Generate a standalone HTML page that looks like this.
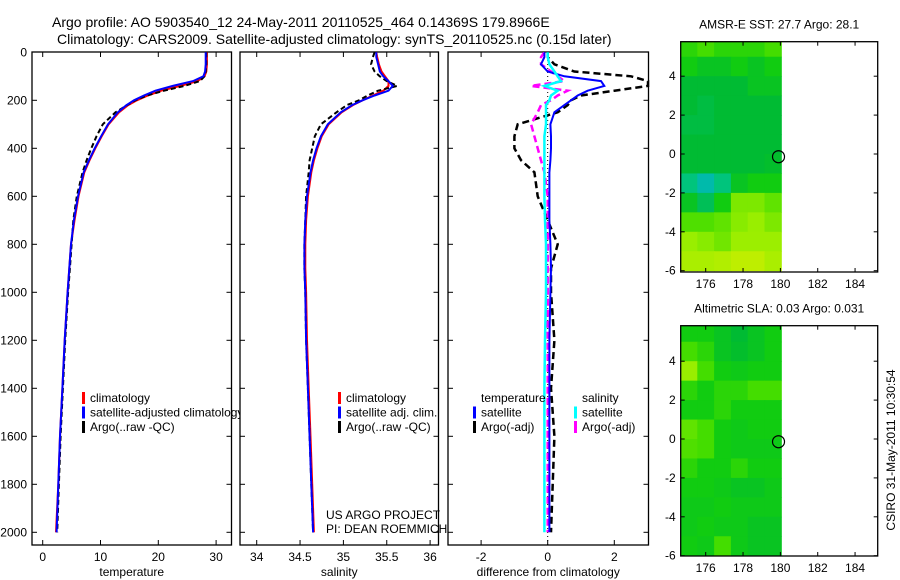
<!DOCTYPE html>
<html><head><meta charset="utf-8"><style>
body{margin:0;background:#fff;}
svg{display:block;font-family:"Liberation Sans",sans-serif;}
</style></head><body>
<svg id="c" width="900" height="580" viewBox="0 0 900 580" xmlns="http://www.w3.org/2000/svg">
<rect width="900" height="580" fill="#fff"/>
<text x="52" y="27" font-size="14">Argo profile: AO 5903540_12 24-May-2011 20110525_464 0.14369S 179.8966E</text>
<text x="57" y="44" font-size="14">Climatology: CARS2009. Satellite-adjusted climatology: synTS_20110525.nc (0.15d later)</text>
</svg>
<script>
const depth=[0,20,50,80,100,120,140,160,180,200,220,250,300,350,400,450,500,600,700,800,900,1000,1200,1400,1600,1800,2000];
const tempSat=[28.2,28.2,28.2,28.1,27.8,26,22.5,19.5,17.5,15.8,14.5,13,11.3,10.1,9,8,7.1,6.1,5.4,4.9,4.6,4.3,3.8,3.4,3.0,2.7,2.4];
const tempClim=[28.4,28.4,28.4,28.3,28.0,26.8,23.8,20.5,18.2,16.3,14.8,13.2,11.4,10.2,9.1,8.1,7.2,6.2,5.5,4.9,4.6,4.3,3.8,3.4,3.0,2.7,2.3];
const tempArgo=[28.3,28.3,28.3,28.2,28.0,27.2,24.5,21.0,18.0,16.0,14.6,12.6,10.4,9.3,8.4,7.6,6.9,5.9,5.3,5.0,4.7,4.4,3.9,3.5,3.1,2.8,2.5];
const salSat=[35.38,35.38,35.40,35.42,35.46,35.52,35.57,35.52,35.36,35.22,35.10,34.97,34.82,34.74,34.69,34.65,34.62,34.58,34.56,34.55,34.55,34.56,34.57,34.59,34.61,34.63,34.65];
const salClim=[35.38,35.39,35.41,35.44,35.48,35.52,35.52,35.46,35.34,35.22,35.11,34.98,34.83,34.75,34.70,34.66,34.63,34.59,34.57,34.56,34.56,34.57,34.58,34.60,34.62,34.64,34.66];
const salArgo=[35.36,35.34,35.32,35.36,35.42,35.50,35.62,35.40,35.28,35.18,35.04,34.92,34.74,34.67,34.64,34.61,34.60,34.57,34.56,34.55,34.55,34.56,34.57,34.59,34.61,34.63,34.65];
const dTsat=[-0.1,-0.1,-0.2,0.0,0.5,1.6,1.7,1.2,0.9,0.7,0.5,0.2,0.08,0.1,0.1,0.08,0.05,0.05,0.05,0.08,0.1,0.08,0.05,0.05,0.05,0.05,0.05];
const dTargo=[0,0,0.2,0.8,2.5,3.4,3.5,2.0,1.0,0.7,0.6,0.3,-0.9,-1.0,-1.0,-0.8,-0.4,-0.3,0.0,0.3,0.1,0.1,0.2,0.1,0.2,0.15,0.1];
const dSsat=[0,0,0.05,0.2,0.3,0.4,-0.1,0.3,0.1,0.05,-0.05,-0.05,-0.05,-0.1,-0.1,-0.1,-0.1,-0.1,-0.08,-0.05,-0.05,-0.05,-0.08,-0.1,-0.1,-0.1,-0.1];
const dSargo=[-0.1,-0.2,-0.2,0.1,0.3,0.5,-0.5,0.6,0.3,0.1,-0.2,-0.3,-0.5,-0.4,-0.3,-0.2,-0.1,0,0,0,0,0,0,0,0,0,0];
const depthTicks=[0,200,400,600,800,1000,1200,1400,1600,1800,2000];
const tempTicks=[0,10,20,30];
const salTicks=["34","34.5","35","35.5","36"];
const diffTicks=[-2,0,2];
const mapLonTicks=[176,178,180,182,184];
const mapLatTicks=[4,2,0,-2,-4,-6];
const mapLons=[175.1,176.0,176.9,177.8,178.7,179.6];
const mapLats=[5.5,4.5,3.5,2.5,1.5,0.5,-0.5,-1.5,-2.5,-3.5,-4.5,-5.5];
const sstGrid=[[0.55,0.6,0.55,0.55,0.55,0.6],[0.5,0.45,0.45,0.5,0.45,0.5],[0.4,0.4,0.4,0.4,0.45,0.45],[0.4,0.38,0.4,0.4,0.4,0.4],[0.38,0.38,0.4,0.4,0.4,0.4],[0.4,0.4,0.4,0.4,0.4,0.4],[0.4,0.4,0.4,0.4,0.4,0.42],[0.3,0.22,0.3,0.45,0.5,0.5],[0.45,0.35,0.5,0.7,0.7,0.65],[0.62,0.62,0.65,0.72,0.75,0.7],[0.75,0.72,0.68,0.76,0.76,0.76],[0.8,0.8,0.82,0.86,0.86,0.8]];
const slaGrid=[[0.5,0.5,0.45,0.4,0.45,0.5],[0.6,0.55,0.45,0.42,0.45,0.5],[0.75,0.6,0.5,0.48,0.5,0.5],[0.55,0.5,0.55,0.55,0.6,0.6],[0.5,0.5,0.55,0.5,0.5,0.5],[0.65,0.6,0.5,0.48,0.5,0.5],[0.62,0.6,0.5,0.48,0.48,0.48],[0.55,0.5,0.5,0.55,0.5,0.5],[0.5,0.5,0.48,0.45,0.45,0.48],[0.48,0.48,0.5,0.48,0.48,0.48],[0.48,0.5,0.48,0.48,0.45,0.45],[0.5,0.48,0.6,0.48,0.45,0.45]];
const floatPos=[179.9,-0.14];

const svg=document.getElementById('c');
const NS='http://www.w3.org/2000/svg';
function mk(tag,attrs,parent){const e=document.createElementNS(NS,tag);for(const k in attrs)e.setAttribute(k,attrs[k]);(parent||svg).appendChild(e);return e;}
function txt(x,y,s,size,anchor){const t=mk('text',{x:x,y:y,'font-size':size||12,'text-anchor':anchor||'start'});t.textContent=s;return t;}

const Y0=52,YB=545;
const yD=d=>52.3+d*0.24;

function panel(name,L,R,xs,ticks,labels,xlabel,showY){
  const bg=mk('rect',{x:L,y:Y0,width:R-L,height:YB-Y0,fill:'#fff'});
  
  
  const g=mk('g',{});
  
  
  mk('rect',{x:L,y:Y0,width:R-L,height:YB-Y0,fill:'none',stroke:'#000','stroke-width':1.3},g);
  depthTicks.forEach(d=>{const y=yD(d);
    if(y>Y0+1){mk('line',{x1:L,x2:L+5,y1:y,y2:y,stroke:'#000'},g);mk('line',{x1:R-5,x2:R,y1:y,y2:y,stroke:'#000'},g);}
    if(showY){const t=txt(L-5,y+4,String(d),12,'end');}
  });
  ticks.forEach((v,i)=>{const x=xs(+v);
    mk('line',{x1:x,x2:x,y1:Y0,y2:Y0+5,stroke:'#000'},g);mk('line',{x1:x,x2:x,y1:YB-5,y2:YB,stroke:'#000'},g);
    const t=txt(x,561,labels[i],12,'middle');
  });
  const xl=txt((L+R)/2,576,xlabel,12,'middle');
  
  
}
function line(xs,vals,color,nm,dash,w){
  const pts=vals.map((v,i)=>xs(v).toFixed(1)+','+yD(depth[i]).toFixed(1)).join(' ');
  const p=mk('polyline',{points:pts,fill:'none',stroke:color,'stroke-width':w||2,'stroke-dasharray':dash||'none','clip-path':'url(#cp)'});
  
  
  return p;
}
function legend(items,x,y0){
  items.forEach((it,i)=>{const y=y0+i*14.5;
    if(it[0]){mk('rect',{x:x,y:y-10,width:3,height:12,fill:it[0]});}
    const t=txt(x+8,y,it[1],12);
    
    
  });
}

// Panel 1 temperature
const xT=v=>42.7+v*5.78;
panel('temperature-panel',32,231.5,xT,tempTicks,tempTicks.map(String),'temperature',true);
line(xT,tempClim,'#f00','climatology-temp-line');
line(xT,tempArgo,'#000','argo-temp-line','5,3');
line(xT,tempSat,'#00f','satellite-temp-line');
legend([['#f00','climatology'],['#00f','satellite-adjusted climatology'],['#000','Argo(..raw -QC)']],82,402);

// Panel 2 salinity
const xS=v=>256.7+(v-34)*86.7;
panel('salinity-panel',240,438.5,xS,salTicks,salTicks,'salinity',false);
line(xS,salClim,'#f00','climatology-salinity-line');
line(xS,salArgo,'#000','argo-salinity-line','5,3');
line(xS,salSat,'#00f','satellite-salinity-line');
legend([['#f00','climatology'],['#00f','satellite adj. clim.'],['#000','Argo(..raw -QC)']],338,402);
const c1=txt(326,519,'US ARGO PROJECT',12);
const c2=txt(326,533,'PI: DEAN ROEMMICH',12);

// Panel 3 difference
const xDf=v=>Math.max(448,Math.min(648,547.7+v*33.3));
panel('difference-panel',448,648.5,xDf,diffTicks,diffTicks.map(String),'difference from climatology',false);
const zl=mk('line',{x1:xDf(0),x2:xDf(0),y1:Y0,y2:YB,stroke:'#000','stroke-dasharray':'1,3'});


line(xDf,dTargo,'#000','argo-temp-diff-line','7,4',2.5);
line(xDf,dSargo,'#f0f','argo-salinity-diff-line','7,4',2.5);
line(xDf,dTsat,'#00f','satellite-temp-diff-line');
line(xDf,dSsat,'#0ff','satellite-salinity-diff-line',null,2.5);
legend([[null,'temperature'],['#00f','satellite'],['#000','Argo(-adj)']],473,402);
legend([[null,'salinity'],['#0ff','satellite'],['#f0f','Argo(-adj)']],574,402);

// Maps
const stops=[[0,[0,80,255]],[0.25,[0,200,160]],[0.4,[0,187,51]],[0.5,[17,204,17]],[0.6,[68,221,0]],[0.75,[153,238,0]],[0.9,[204,238,0]],[1,[238,238,0]]];
function cmap(v){for(let i=1;i<stops.length;i++){if(v<=stops[i][0]){const a=stops[i-1],b=stops[i],t=(v-a[0])/(b[0]-a[0]);return 'rgb('+a[1].map((c,k)=>Math.round(c+(b[1][k]-c)*t)).join(',')+')';}}return 'rgb(238,238,0)';}
function mapPanel(name,top,bot,grid,title,lat0y){
  const L=680.7,R=877.7;
  const xL=lon=>705.7+(lon-176)*18.67;
  const yL=lat=>lat0y-lat*((bot-top)/11.84);
  const g=mk('g',{});
  
  
  const dLon=mapLons[1]-mapLons[0];
  grid.forEach((row,r)=>row.forEach((v,c)=>{
    const x1=Math.max(L,xL(mapLons[c]-dLon/2)),x2=xL(mapLons[c]+dLon/2);
    const y1=Math.max(top,yL(mapLats[r]+0.5)),y2=Math.min(bot,yL(mapLats[r]-0.5));
    const cell=mk('rect',{x:x1,y:y1,width:x2-x1+0.5,height:y2-y1+0.5,fill:cmap(v)},g);
    
    
  }));
  mk('rect',{x:L,y:top,width:R-L,height:bot-top,fill:'none',stroke:'#000','stroke-width':1.3},g);
  mapLonTicks.forEach(v=>{const x=xL(v);mk('line',{x1:x,x2:x,y1:top,y2:top+4,stroke:'#000'},g);mk('line',{x1:x,x2:x,y1:bot-4,y2:bot,stroke:'#000'},g);
    const t=txt(x,bot+16,String(v),12,'middle');});
  mapLatTicks.forEach(v=>{const y=yL(v);mk('line',{x1:L,x2:L+4,y1:y,y2:y,stroke:'#000'},g);mk('line',{x1:R-4,x2:R,y1:y,y2:y,stroke:'#000'},g);
    const t=txt(L-5,y+4,String(v),12,'end');});
  const fp=mk('circle',{cx:xL(floatPos[0]),cy:yL(floatPos[1]),r:6,fill:'none',stroke:'#000','stroke-width':1.2},g);
  
  
  const tt=txt((L+R)/2,top-13,title,12,'middle');
  
  
}
mapPanel('sst-map',41.7,272,sstGrid,'AMSR-E SST: 27.7 Argo: 28.1',154);
mapPanel('sla-map',325.7,556,slaGrid,'Altimetric SLA: 0.03 Argo: 0.031',439);
const st=txt(0,0,'CSIRO 31-May-2011 10:30:54',12,'middle');
st.setAttribute('transform','translate(895,450) rotate(-90)');


// clip path defs
const defs=mk('defs',{});const cp=mk('clipPath',{id:'cp'},defs);mk('rect',{x:0,y:52,width:900,height:493},cp);
</script>
</body></html>
